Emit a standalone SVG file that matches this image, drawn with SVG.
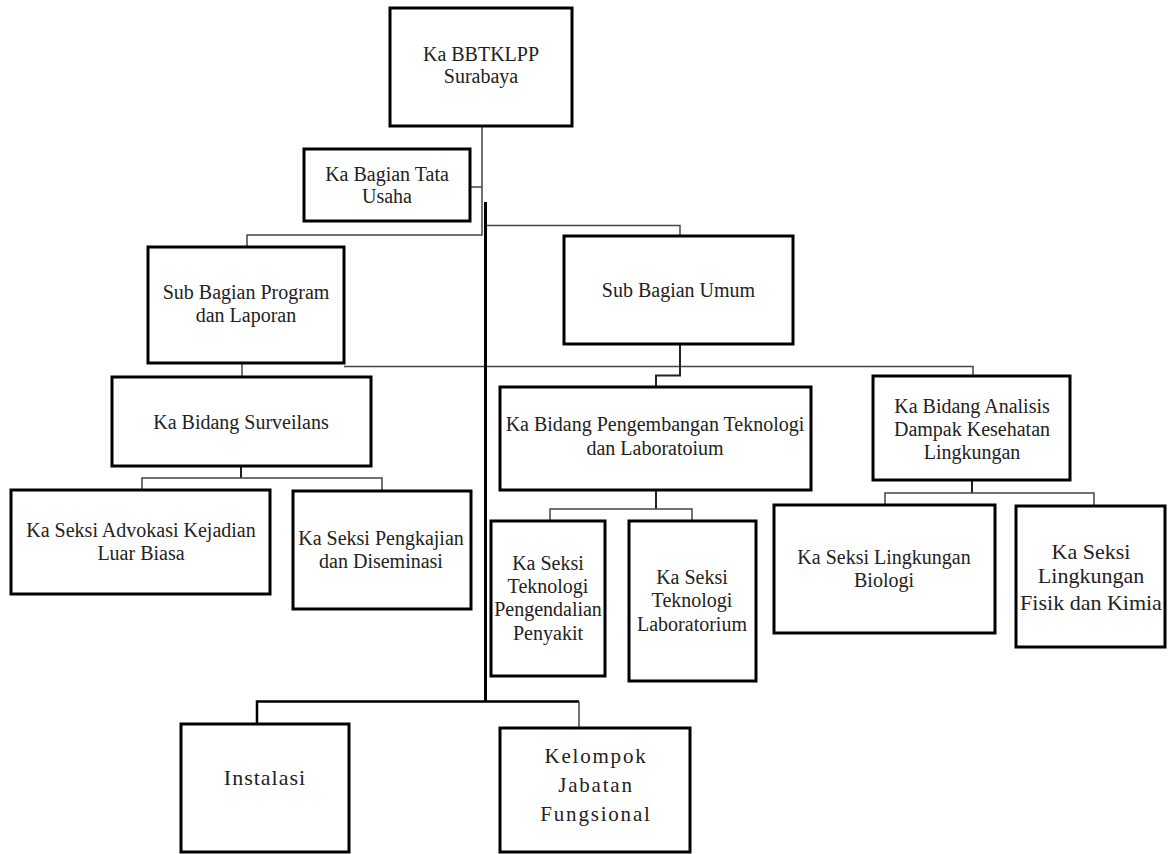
<svg xmlns="http://www.w3.org/2000/svg" width="1168" height="854" viewBox="0 0 1168 854">
<style>
.box{fill:#fff;stroke:#000;stroke-width:3}
.t{font-family:'Liberation Serif','DejaVu Serif',serif;font-size:20px;fill:#222;text-anchor:middle}
.t22{font-size:22px}
.thin{fill:none;stroke:#444;stroke-width:1.5}
.med{fill:none;stroke:#222;stroke-width:2}
.thick{fill:none;stroke:#000;stroke-width:3}
</style>
<rect width="1168" height="854" fill="#fff"/>
<g id="connectors">
<path class="thin" d="M482,126 V235 H247 V247"/>
<path class="thin" d="M470,187 H482"/>
<path class="thin" d="M485,225.5 H680 V236"/>
<path class="thin" d="M242,363 V377"/>
<path class="thin" d="M344,366.5 H973 V376"/>
<path class="med" d="M680,344 V375.5 H656 V387"/>
<path class="med" d="M241,466 V478"/>
<path class="thin" d="M142,490 V478 H382 V491"/>
<path class="med" d="M656,490 V509"/>
<path class="thin" d="M550,521 V509 H692 V521"/>
<path class="med" d="M972,480 V493"/>
<path class="thin" d="M885,505 V493 H1094 V506"/>
<path class="thick" d="M485.5,202 V702"/>
<path class="thick" d="M257,724 V701.5 H579" style="stroke-width:2.5"/>
<path class="thin" d="M579,701.5 V728"/>
</g>
<g id="ka-bbtklpp">
<rect class="box" x="390" y="8" width="182" height="118"/>
<text class="t" x="481" y="61" font-family="Liberation Serif, DejaVu Serif, serif">Ka BBTKLPP</text>
<text class="t" x="481" y="83">Surabaya</text>
</g>
<g id="tata-usaha">
<rect class="box" x="304" y="149" width="166" height="72"/>
<text class="t" x="387" y="181">Ka Bagian Tata</text>
<text class="t" x="387" y="203">Usaha</text>
</g>
<g id="sub-program">
<rect class="box" x="148" y="247" width="196" height="116"/>
<text class="t" x="246" y="299">Sub Bagian Program</text>
<text class="t" x="246" y="322">dan Laporan</text>
</g>
<g id="sub-umum">
<rect class="box" x="564" y="236" width="229" height="108"/>
<text class="t" x="678.5" y="297">Sub Bagian Umum</text>
</g>
<g id="bidang-surveilans">
<rect class="box" x="112" y="377" width="259" height="89"/>
<text class="t" x="241" y="429">Ka Bidang Surveilans</text>
</g>
<g id="bidang-pengembangan">
<rect class="box" x="500" y="387" width="311" height="103"/>
<text class="t" x="655" y="431">Ka Bidang Pengembangan Teknologi</text>
<text class="t" x="655" y="455">dan Laboratoium</text>
</g>
<g id="bidang-analisis">
<rect class="box" x="873" y="376" width="197" height="104"/>
<text class="t" x="972" y="413">Ka Bidang Analisis</text>
<text class="t" x="972" y="436">Dampak Kesehatan</text>
<text class="t" x="972" y="459">Lingkungan</text>
</g>
<g id="seksi-advokasi">
<rect class="box" x="11" y="490" width="259" height="104"/>
<text class="t" x="141" y="537">Ka Seksi Advokasi Kejadian</text>
<text class="t" x="141" y="560">Luar Biasa</text>
</g>
<g id="seksi-pengkajian">
<rect class="box" x="293" y="491" width="178" height="118"/>
<text class="t" x="381" y="545">Ka Seksi Pengkajian</text>
<text class="t" x="381" y="568">dan Diseminasi</text>
</g>
<g id="seksi-tpp">
<rect class="box" x="491" y="521" width="114" height="155"/>
<text class="t" x="548" y="570">Ka Seksi</text>
<text class="t" x="548" y="593">Teknologi</text>
<text class="t" x="548" y="616">Pengendalian</text>
<text class="t" x="548" y="640">Penyakit</text>
</g>
<g id="seksi-tl">
<rect class="box" x="629" y="521" width="127" height="160"/>
<text class="t" x="692" y="584">Ka Seksi</text>
<text class="t" x="692" y="607">Teknologi</text>
<text class="t" x="692" y="631">Laboratorium</text>
</g>
<g id="seksi-biologi">
<rect class="box" x="774" y="505" width="221" height="128"/>
<text class="t" x="884" y="564">Ka Seksi Lingkungan</text>
<text class="t" x="884" y="587">Biologi</text>
</g>
<g id="seksi-fisik">
<rect class="box" x="1016" y="506" width="149" height="141"/>
<text class="t t22" x="1091" y="559">Ka Seksi</text>
<text class="t t22" x="1091" y="583">Lingkungan</text>
<text class="t t22" x="1091" y="610">Fisik dan Kimia</text>
</g>
<g id="instalasi">
<rect class="box" x="181" y="724" width="168" height="128"/>
<text class="t t22" x="265" y="785" style="letter-spacing:1px">Instalasi</text>
</g>
<g id="kelompok">
<rect class="box" x="500" y="728" width="190" height="124"/>
<text class="t" x="596" y="763" style="font-size:21px;letter-spacing:1.8px">Kelompok</text>
<text class="t" x="596" y="792" style="font-size:21px;letter-spacing:1.8px">Jabatan</text>
<text class="t" x="596" y="821" style="font-size:21px;letter-spacing:1.8px">Fungsional</text>
</g>
</svg>
